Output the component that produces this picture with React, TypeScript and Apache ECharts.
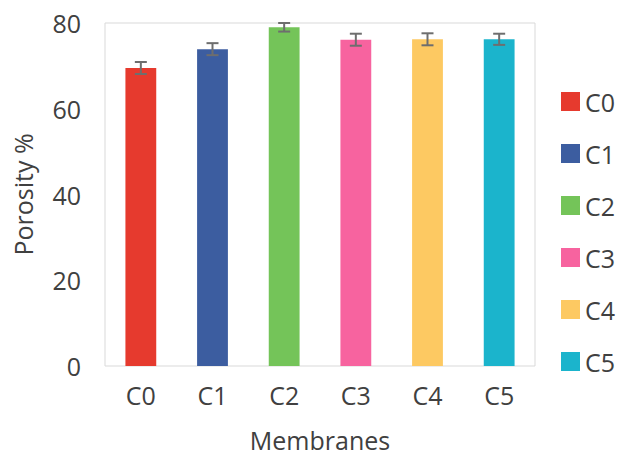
import React, { useEffect, useRef } from "react";
import * as echarts from "echarts";

const categories = ["C0", "C1", "C2", "C3", "C4", "C5"];
const porosity = [69.5, 73.9, 79.0, 76.1, 76.2, 76.2];
const errors = [1.4, 1.4, 1.0, 1.4, 1.4, 1.3];
const colors = ["#E63A2E", "#3C5DA0", "#74C459", "#F7639F", "#FDC962", "#1BB4CC"];
const yTicks = [0, 20, 40, 60, 80];

const FONT = "Open Sans";
const TXT = "#404040";
const FS = 25;

export default function App() {
  const ref = useRef<HTMLDivElement>(null);
  useEffect(() => {
    if (!ref.current) return;
    const chart = echarts.init(ref.current, null, { renderer: "svg" });
    const barSeries = categories.map((c, i) => ({
      name: c,
      type: "bar",
      stack: "all",
      barWidth: "43%",
      itemStyle: { color: colors[i] },
      data: categories.map((_, j) => (j === i ? porosity[i] : null)),
    }));
    const errData = categories.map((_, i) => [i, porosity[i] - errors[i], porosity[i] + errors[i]]);
    chart.setOption({
      animation: false,
      textStyle: { fontFamily: FONT },
      grid: {
        left: 105,
        right: 85,
        top: 23,
        bottom: 92,
        show: true,
        borderColor: "#d9d9d9",
        borderWidth: 1,
      },
      legend: {
        orient: "vertical",
        left: 561,
        top: 89,
        itemWidth: 19,
        itemHeight: 19,
        itemGap: 27,
        icon: "rect",
        padding: 0,
        textStyle: { fontFamily: FONT, fontSize: FS, lineHeight: 25, color: TXT, padding: [0, 0, 0, 0] },
        data: categories,
      },
      xAxis: {
        type: "category",
        data: categories,
        name: "Membranes",
        nameLocation: "middle",
        nameGap: 61,
        nameTextStyle: { fontFamily: FONT, fontSize: FS, color: TXT },
        axisLine: { show: false },
        axisTick: { show: false },
        axisLabel: { fontFamily: FONT, fontSize: FS, color: TXT, margin: 16 },
      },
      yAxis: {
        type: "value",
        min: yTicks[0],
        max: yTicks[yTicks.length - 1],
        interval: 20,
        name: "Porosity %",
        nameLocation: "middle",
        nameGap: 70,
        nameTextStyle: { fontFamily: FONT, fontSize: FS, color: TXT },
        axisLine: { show: false },
        axisTick: { show: false },
        splitLine: { show: false },
        axisLabel: { fontFamily: FONT, fontSize: FS, color: TXT, margin: 24 },
      },
      series: [
        ...barSeries,
        {
          type: "custom",
          name: "err",
          z: 10,
          renderItem: (params: any, api: any) => {
            const x = api.value(0);
            const lo = api.coord([x, api.value(1)]);
            const hi = api.coord([x, api.value(2)]);
            const hw = 6;
            const style = { stroke: "#6e6e6e", lineWidth: 2, fill: "none" };
            return {
              type: "group",
              children: [
                { type: "line", shape: { x1: lo[0], y1: lo[1], x2: hi[0], y2: hi[1] }, style },
                { type: "line", shape: { x1: lo[0] - hw, y1: lo[1], x2: lo[0] + hw, y2: lo[1] }, style },
                { type: "line", shape: { x1: hi[0] - hw, y1: hi[1], x2: hi[0] + hw, y2: hi[1] }, style },
              ],
            };
          },
          data: errData,
        },
      ],
    });
    return () => chart.dispose();
  }, []);
  return (
    <div
      ref={ref}
      style={{ position: "absolute", left: 0, top: 0, width: 620, height: 458 }}
    />
  );
}
